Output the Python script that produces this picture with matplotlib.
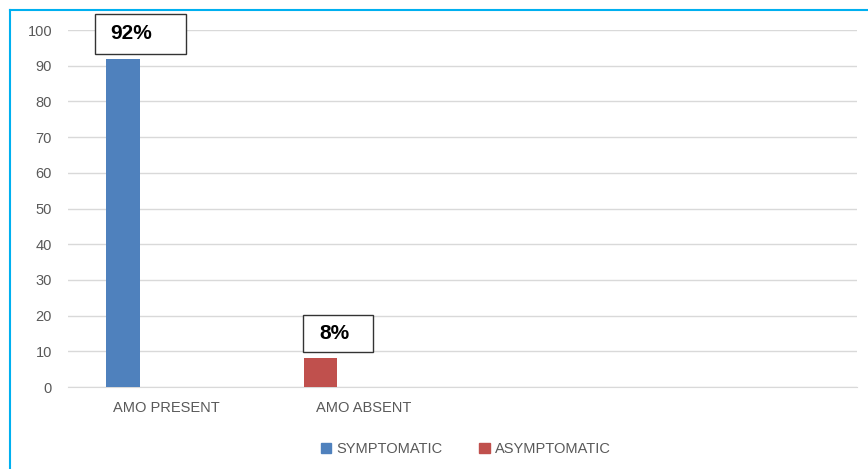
import matplotlib
matplotlib.use("Agg")
import matplotlib.pyplot as plt
import numpy as np
from matplotlib.patches import Rectangle
from matplotlib.lines import Line2D

categories = ["AMO PRESENT", "AMO ABSENT", "", ""]
series_names = ["SYMPTOMATIC", "ASYMPTOMATIC"]
bar_values = [92, 8]           # one bar per first two categories
bar_series = [0, 1]            # series index for each bar
bar_labels = ["92%", "8%"]
yticks = [0, 10, 20, 30, 40, 50, 60, 70, 80, 90, 100]

colors = ["#4F81BD", "#C0504D"]
plt.rcParams['font.family'] = ['Liberation Sans', 'DejaVu Sans']

fig = plt.figure(figsize=(8.68, 4.69), dpi=100)
ax = fig.add_axes([68/868, 1-387/469, (857-68)/868, (387-30)/469])

x = np.arange(len(bar_values)) - 0.22
for xi, v, s in zip(x, bar_values, bar_series):
    ax.bar(xi, v, width=0.17, color=colors[s], zorder=3)

# label boxes (left, bottom, width, height) and text centers
label_boxes = [(-0.363, 93.3, 0.461, 11.2), (0.691, 9.8, 0.355, 10.4)]
label_text = [(-0.181, 98.9), (0.849, 15.1)]
for (bx, by, bw, bh), (tx, ty), t in zip(label_boxes, label_text, bar_labels):
    ax.add_patch(Rectangle((bx, by), bw, bh, fc='white', ec='#333333', lw=1,
                           clip_on=False, zorder=4))
    ax.text(tx, ty, t, ha='center', va='center', fontsize=15, fontweight='bold',
            color='black', clip_on=False, zorder=5)

ax.set_xlim(-0.5, len(categories) - 0.5)
ax.set_ylim(0, 100)
ax.set_yticks(yticks)
ax.set_xticks(np.arange(len(categories)))
ax.set_xticklabels(categories)
ax.tick_params(axis='both', length=0, labelsize=10.5, labelcolor='#595959')
ax.tick_params(axis='y', pad=11.5)
ax.tick_params(axis='x', pad=10)
ax.grid(axis='y', color='#D9D9D9', lw=1, zorder=0)
for sp in ['top', 'right', 'left']:
    ax.spines[sp].set_visible(False)
ax.spines['bottom'].set_color('#D9D9D9')

handles = [Rectangle((0, 0), 1, 1, color=c) for c in colors]
fig.legend(handles, series_names, loc='center', bbox_to_anchor=(466/868, 1-449/469),
           ncol=2, frameon=False, fontsize=10.5, labelcolor='#595959',
           handlelength=0.7, handleheight=0.7, handletextpad=0.4, columnspacing=2.5)

# outer frame (left and top edges)
fig.add_artist(Line2D([10/868, 10/868], [0, 1-10/469], color='#00B0F0', lw=1.5,
                      transform=fig.transFigure))
fig.add_artist(Line2D([10/868, 1], [1-10/469, 1-10/469], color='#00B0F0', lw=1.5,
                      transform=fig.transFigure))

fig.savefig("out.png", dpi=100)
